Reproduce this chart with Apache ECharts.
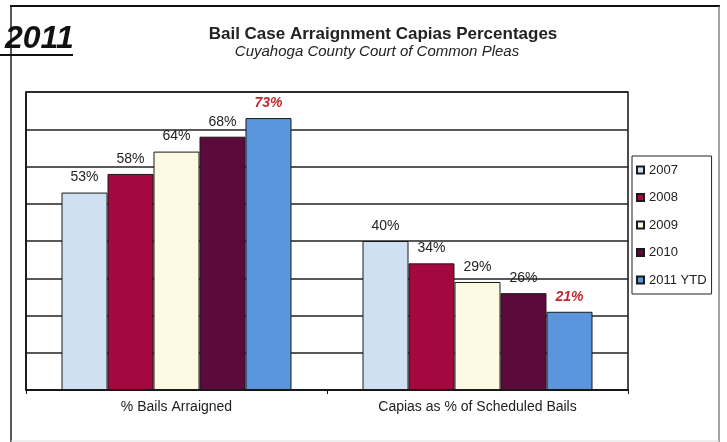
<!DOCTYPE html>
<html>
<head>
<meta charset="utf-8">
<script src="https://cdn.jsdelivr.net/npm/echarts@6/dist/echarts.min.js"></script>
<style>
  html, body { margin: 0; padding: 0; background: #fff; }
  #chart { width: 727px; height: 442px; }
</style>
</head>
<body>
<div id="chart"></div>
<script>
// data
var categories = ['% Bails Arraigned', 'Capias as % of Scheduled Bails'];
var years = ['2007', '2008', '2009', '2010', '2011 YTD'];
var v2007 = [53, 40];
var v2008 = [58, 34];
var v2009 = [64, 29];
var v2010 = [68, 26];
var v2011 = [73, 21];
var yTicks = [0, 10, 20, 30, 40, 50, 60, 70, 80];

var colors = ['#cfe0f2', '#a3093f', '#fcfae3', '#5c0a3c', '#5b95dc'];
var values = [v2007, v2008, v2009, v2010, v2011];
var font = "'Liberation Sans', Arial, sans-serif";
var narrow = "'Liberation Sans Narrow', 'Arial Narrow', 'Liberation Sans', sans-serif";

var myChart = echarts.init(document.getElementById('chart'));

var series = years.map(function (name, i) {
  var last = i === years.length - 1;
  return {
    name: name,
    type: 'bar',
    barWidth: 46,
    barGap: '0%',
    data: values[i],
    itemStyle: {
      color: colors[i],
      borderColor: '#1a1a1a',
      borderWidth: 1
    },
    label: {
      show: true,
      position: 'top',
      distance: 8,
      formatter: '{c}%',
      fontFamily: font,
      fontSize: 14,
      color: last ? '#c0282d' : '#222',
      fontStyle: last ? 'italic' : 'normal',
      fontWeight: last ? 'bold' : 'normal'
    }
  };
});

var option = {
  animation: false,
  textStyle: { fontFamily: font },
  grid: {
    left: 26,
    right: 99,
    top: 92,
    bottom: 52,
    show: true,
    borderColor: '#111',
    borderWidth: 1.5
  },
  legend: {
    data: years,
    orient: 'vertical',
    left: 632,
    top: 156,
    padding: [7, 5, 7, 4],
    itemWidth: 7,
    itemHeight: 7,
    itemGap: 13.5,
    itemTextGap: 2,
    borderColor: '#222',
    borderWidth: 1,
    icon: 'rect',
    textStyle: { fontSize: 13, color: '#222', lineHeight: 14, fontFamily: font }
  },
  xAxis: {
    type: 'category',
    data: categories,
    axisLine: { lineStyle: { color: '#111', width: 1.5 } },
    axisTick: { show: true, length: 4, lineStyle: { color: '#111' } },
    axisLabel: { fontSize: 14, color: '#222', margin: 10, fontFamily: font }
  },
  yAxis: {
    type: 'value',
    min: yTicks[0],
    max: yTicks[yTicks.length - 1],
    interval: yTicks[1] - yTicks[0],
    axisLine: { show: true, lineStyle: { color: '#111', width: 1.5 } },
    axisTick: { show: false },
    axisLabel: { show: false },
    splitLine: { lineStyle: { color: '#222', width: 1.5 } }
  },
  graphic: [
    // outer frame
    { type: 'line', shape: { x1: 10, y1: 6, x2: 720, y2: 6 }, style: { stroke: '#111', lineWidth: 2 } },
    { type: 'line', shape: { x1: 11, y1: 6, x2: 11, y2: 442 }, style: { stroke: '#222', lineWidth: 1.5 } },
    { type: 'line', shape: { x1: 719, y1: 6, x2: 719, y2: 442 }, style: { stroke: '#666', lineWidth: 1.2 } },
    { type: 'line', shape: { x1: 11, y1: 441, x2: 719, y2: 441 }, style: { stroke: '#ddd', lineWidth: 1 } },
    // year stamp
    { type: 'text', left: 5, top: 23, style: { text: '2011', fontFamily: font, fontSize: 32, fontWeight: 'bold', fontStyle: 'italic', fill: '#111' } },
    { type: 'line', shape: { x1: 0, y1: 55, x2: 73, y2: 55 }, style: { stroke: '#111', lineWidth: 2 } },
    // titles
    { type: 'text', x: 383, y: 34, style: { text: 'Bail Case Arraignment Capias Percentages', fontFamily: narrow, fontSize: 17, fontWeight: 'bold', fill: '#222', align: 'center', verticalAlign: 'middle' } },
    { type: 'text', x: 377, y: 52, style: { text: 'Cuyahoga County Court of Common Pleas', fontFamily: narrow, fontSize: 15, fontStyle: 'italic', fill: '#222', align: 'center', verticalAlign: 'middle' } }
  ],
  series: series
};

myChart.setOption(option);
window.addEventListener('resize', function () {
  myChart.resize();
});
</script>
</body>
</html>
